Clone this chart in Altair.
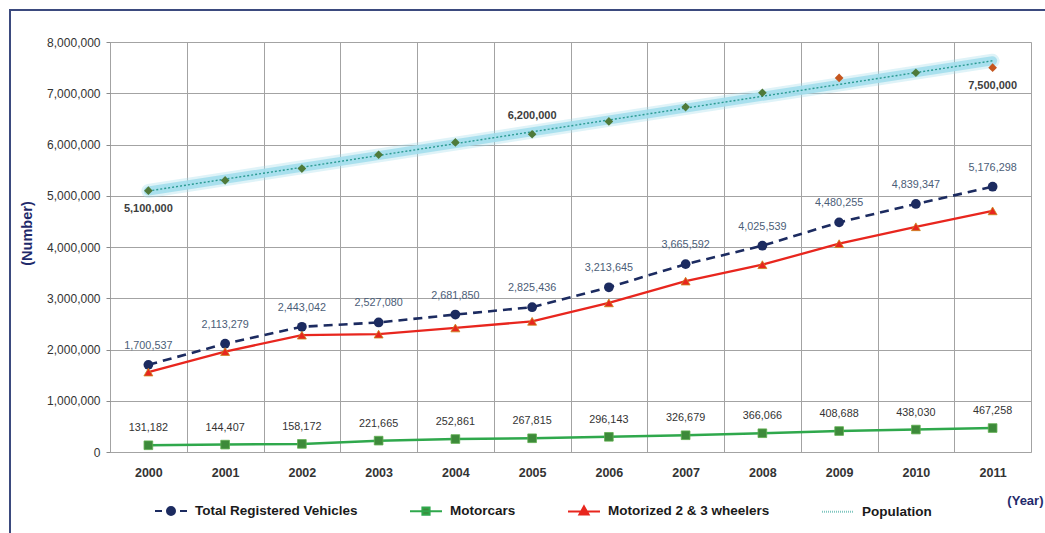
import altair as alt
import pandas as pd

# ---- data -------------------------------------------------------------
years = ["2000", "2001", "2002", "2003", "2004", "2005",
         "2006", "2007", "2008", "2009", "2010", "2011"]
total_vehicles = [1700537, 2113279, 2443042, 2527080, 2681850, 2825436,
                  3213645, 3665592, 4025539, 4480255, 4839347, 5176298]
motorcars = [131182, 144407, 158172, 221665, 252861, 267815,
             296143, 326679, 366066, 408688, 438030, 467258]
wheelers_2_3 = [1560000, 1960000, 2280000, 2300000, 2420000, 2550000,
                2910000, 3335000, 3655000, 4065000, 4395000, 4705000]
population = [5100000, 5300000, 5530000, 5800000, 6040000, 6200000,
              6450000, 6730000, 7010000, 7300000, 7400000, 7500000]

# population points drawn in the alternate colour
population_alt_years = ["2009", "2011"]
# population values that carry a label, below or above the marker
population_labels_below = ["2000", "2011"]
population_labels_above = ["2005"]

series_names = ["Total Registered Vehicles", "Motorcars",
                "Motorized 2 & 3 wheelers", "Population"]

df = pd.DataFrame({
    "year": years,
    "yr": [int(y) for y in years],
    "total": total_vehicles,
    "motorcars": motorcars,
    "wheelers": wheelers_2_3,
    "population": population,
})

# ---- styling ----------------------------------------------------------
FONT = "Liberation Sans"
NUM = ",.0f"
NAVY = "#1c2b60"
RED = "#e8261e"
GREEN_LINE = "#2fa84c"
GREEN_MARK = "#3d8a3a"
TEAL = "#2a9a92"
GLOW = "#a3deec"
POP_GREEN = "#4f7a3a"
POP_ORANGE = "#c5561f"
GRID = "#a3a3a3"
TITLE_NAVY = "#1f2a6b"

W, H = 921, 410

x_enc = alt.X(
    "year:O",
    bandPosition=0.5,
    scale=alt.Scale(type="band", domain=years, paddingInner=0, paddingOuter=0),
    axis=alt.Axis(
        title="(Year)", titleX=933, titleY=48, titleAlign="right",
        titleBaseline="middle", titleFontSize=13, titleFontWeight="bold",
        titleColor=TITLE_NAVY, titleFont=FONT,
        labelFont=FONT, labelFontSize=12.5, labelFontWeight="bold",
        labelColor="#333333", labelPadding=14, labelAngle=0,
        ticks=False, domain=False, grid=True, tickBand="extent",
        gridColor=GRID, gridWidth=1,
    ),
)

y_scale = alt.Scale(domain=[0, 8000000], nice=False)
y_axis = alt.Axis(
    title="(Number)", titleX=-83, titleY=191, titleAngle=270,
    titleAlign="center", titleBaseline="middle", titleFontSize=14.5,
    titleFontWeight="bold", titleColor=TITLE_NAVY, titleFont=FONT,
    values=[0, 1000000, 2000000, 3000000, 4000000, 5000000, 6000000,
            7000000, 8000000],
    format=NUM, labelFont=FONT, labelFontSize=12, labelColor="#333333",
    labelPadding=6, tickSize=4, tickColor="#8a8a8a", domain=False,
    grid=True, gridColor=GRID, gridWidth=1,
)


def y_of(field):
    # every layer carries the same axis so the merged axis keeps it
    return alt.Y(f"{field}:Q", scale=y_scale, axis=y_axis)


base = alt.Chart(df)

# outer frame around the whole figure
frame = alt.Chart(pd.DataFrame({"k": [0]})).mark_rect(
    fill="transparent", stroke="#3b4a7e", strokeWidth=2
).encode(x=alt.value(-100), x2=alt.value(945),
         y=alt.value(-32), y2=alt.value(520))

# population: linear trend with a soft glow plus dotted core
trend = base.transform_regression("yr", "population", method="linear") \
    .transform_calculate(year="toString(datum.yr)")
pop_glow_wide = trend.mark_line(color=GLOW, strokeWidth=14, opacity=0.35,
                                strokeCap="round").encode(x=x_enc, y=y_of("population"))
pop_glow = trend.mark_line(color=GLOW, strokeWidth=9, opacity=0.9,
                           strokeCap="round").encode(x=x_enc, y=y_of("population"))
pop_dots = trend.mark_line(color=TEAL, strokeWidth=1.4, strokeDash=[2, 2]).encode(
    x=x_enc, y=y_of("population"))

pop_pts_green = base.transform_filter(
    ~alt.FieldOneOfPredicate(field="year", oneOf=population_alt_years)
).mark_point(shape="diamond", filled=True, size=75, color=POP_GREEN, opacity=1).encode(
    x=x_enc, y=y_of("population"))
pop_pts_orange = base.transform_filter(
    alt.FieldOneOfPredicate(field="year", oneOf=population_alt_years)
).mark_point(shape="diamond", filled=True, size=75, color=POP_ORANGE, opacity=1).encode(
    x=x_enc, y=y_of("population"))

pop_lab_below = base.transform_filter(
    alt.FieldOneOfPredicate(field="year", oneOf=population_labels_below)
).mark_text(dy=18, font=FONT, fontSize=11, fontWeight="bold", color="#3d3d3d").encode(
    x=x_enc, y=y_of("population"), text=alt.Text("population:Q", format=NUM))
pop_lab_above = base.transform_filter(
    alt.FieldOneOfPredicate(field="year", oneOf=population_labels_above)
).mark_text(dy=-18, font=FONT, fontSize=11, fontWeight="bold", color="#3d3d3d").encode(
    x=x_enc, y=y_of("population"), text=alt.Text("population:Q", format=NUM))

# total registered vehicles
total_line = base.mark_line(color=NAVY, strokeWidth=2.6, strokeDash=[9, 6]).encode(
    x=x_enc, y=y_of("total"))
total_pts = base.mark_point(shape="circle", filled=True, size=95, color=NAVY, opacity=1).encode(
    x=x_enc, y=y_of("total"))
total_lab = base.mark_text(dy=-19, font=FONT, fontSize=10.8, color="#4b5d77").encode(
    x=x_enc, y=y_of("total"), text=alt.Text("total:Q", format=NUM))

# motorized 2 & 3 wheelers
wh_line = base.mark_line(color=RED, strokeWidth=2.3).encode(x=x_enc, y=y_of("wheelers"))
wh_pts = base.mark_point(shape="triangle-up", filled=True, size=80, fill=RED,
                         stroke="#c9861c", strokeWidth=0.8, opacity=1).encode(
    x=x_enc, y=y_of("wheelers"))

# motorcars
mc_line = base.mark_line(color=GREEN_LINE, strokeWidth=2.5).encode(x=x_enc, y=y_of("motorcars"))
mc_pts = base.mark_point(shape="square", filled=True, size=75, fill=GREEN_MARK,
                         stroke="#5fae4f", strokeWidth=0.8, opacity=1).encode(
    x=x_enc, y=y_of("motorcars"))
mc_lab = base.mark_text(dy=-17, font=FONT, fontSize=10.8, color="#333333").encode(
    x=x_enc, y=y_of("motorcars"), text=alt.Text("motorcars:Q", format=NUM))

# legend: line-and-marker symbols drawn as custom paths
circle = "M0.2,0A0.2,0.2,0,1,1,-0.2,0A0.2,0.2,0,1,1,0.2,0Z"
dotted = "".join(f"M{-0.8 + i * 0.1:.2f},0L{-0.76 + i * 0.1:.2f},0" for i in range(16))
legend_paths = [
    "M-0.8,0L-0.45,0M0.45,0L0.8,0" + circle,
    "M-0.8,0L0.8,0M-0.18,-0.18L0.18,-0.18L0.18,0.18L-0.18,0.18Z",
    "M-0.8,0L0.8,0M0,-0.25L0.23,0.16L-0.23,0.16Z",
    dotted,
]
legend_fill = [NAVY, GREEN_MARK, RED, TEAL]
legend_stroke = [NAVY, GREEN_LINE, RED, "#5fb8b0"]

legend_def = alt.Legend(
    title=None, orient="none", legendX=40, legendY=448, direction="horizontal",
    symbolSize=1600, symbolStrokeWidth=2, symbolOpacity=1, labelOffset=3,
    columnPadding=47, padding=0, labelFont=FONT, labelFontSize=13.5,
    labelFontWeight="bold", labelColor="#1a1a1a", labelLimit=400,
)

legend_layer = alt.Chart(pd.DataFrame({"series": series_names})).transform_filter(
    "false"
).mark_point(filled=True, opacity=1).encode(
    fill=alt.Fill("series:N", scale=alt.Scale(domain=series_names, range=legend_fill),
                  legend=legend_def),
    stroke=alt.Stroke("series:N", scale=alt.Scale(domain=series_names, range=legend_stroke),
                      legend=legend_def),
    shape=alt.Shape("series:N", scale=alt.Scale(domain=series_names, range=legend_paths),
                    legend=legend_def),
)

chart = alt.layer(
    frame,
    total_line,
    pop_glow_wide, pop_glow, pop_dots, pop_pts_green, pop_pts_orange,
    wh_line, mc_line,
    total_pts, wh_pts, mc_pts,
    total_lab, mc_lab, pop_lab_below, pop_lab_above,
    legend_layer,
).properties(
    width=W, height=H,
    autosize=alt.AutoSizeParams(type="none"),
    padding={"left": 110, "top": 42, "right": 14, "bottom": 81},
    background="white",
).configure_view(
    stroke="#5d6884", strokeWidth=1.5,
).configure(font=FONT)

chart.save("out.html", embed_options={"renderer": "svg", "actions": False})
